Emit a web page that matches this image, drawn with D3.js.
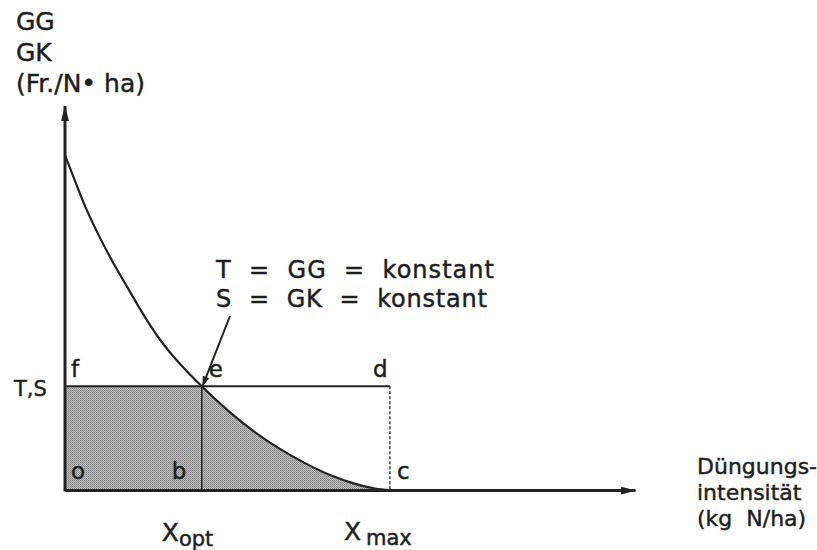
<!DOCTYPE html>
<html><head><meta charset="utf-8">
<script src="https://cdn.jsdelivr.net/npm/d3@7"></script>
<style>
body{margin:0;background:#fff}
svg{display:block}
text{font-family:"DejaVu Sans",sans-serif;fill:#1e1e1e;stroke:#1e1e1e;stroke-width:0.45px;white-space:pre}
</style>
</head><body>
<svg id="c" width="817" height="550"></svg>
<script>
// ---- data ----
const curveX = [0, 1.75, 3.5, 5.3, 7.9, 10.9, 14, 17.5, 21, 24, 28.9, 33.3, 37.7, 42.1, 46.5, 50.9, 54.4, 57];
const curveY = [87.2, 80.5, 74, 68.2, 60.7, 52.9, 45.1, 37.5, 31.5, 27, 20.3, 15.1, 10.7, 7, 3.9, 1.6, 0.4, 0];
const xOpt = 24, xMax = 57, levelTS = 27;
const yAxisTitle = ["GG", "GK", "(Fr./N\u2022 ha)"];
const xAxisTitle = ["Düngungs-", "intensität", "(kg  N/ha)"];
const annotation = ["T  =  GG  =  konstant", "S  =  GK  =  konstant"];
const levelLabel = "T,S";

const svg = d3.select("#c");
const x = d3.scaleLinear([0, 100], [65, 635]);
const y = d3.scaleLinear([0, 100], [490, 106]);
const pts = curveX.map((v, i) => [v, curveY[i]]);
const ink = "#222";

// defs
const defs = svg.append("defs");
const pat = defs.append("pattern").attr("id", "dots").attr("width", 2).attr("height", 2)
  .attr("patternUnits", "userSpaceOnUse");
pat.append("rect").attr("width", 2).attr("height", 2).attr("fill", "#bdbdbd");
pat.append("rect").attr("width", 1).attr("height", 1).attr("fill", "#858585");
pat.append("rect").attr("x", 1).attr("y", 1).attr("width", 1).attr("height", 1).attr("fill", "#959595");

defs.append("marker").attr("id", "arr").attr("viewBox", "0 0 16 10")
  .attr("refX", 15).attr("refY", 5).attr("markerWidth", 16).attr("markerHeight", 10)
  .attr("markerUnits", "userSpaceOnUse").attr("orient", "auto")
  .append("path").attr("d", "M0,1 L16,5 L0,9 Z").attr("fill", ink);
defs.append("marker").attr("id", "arrS").attr("viewBox", "0 0 10 8")
  .attr("refX", 9).attr("refY", 4).attr("markerWidth", 10).attr("markerHeight", 8)
  .attr("markerUnits", "userSpaceOnUse").attr("orient", "auto")
  .append("path").attr("d", "M0,0.5 L10,4 L0,7.5 Z").attr("fill", ink);

defs.append("clipPath").attr("id", "clipRight").append("rect")
  .attr("x", x(xOpt)).attr("y", 0).attr("width", x(xMax) - x(xOpt)).attr("height", 550);

// shaded regions
svg.append("rect").attr("x", x(0)).attr("y", y(levelTS))
  .attr("width", x(xOpt) - x(0)).attr("height", y(0) - y(levelTS)).attr("fill", "url(#dots)");
const area = d3.area().x(d => x(d[0])).y0(y(0)).y1(d => y(d[1])).curve(d3.curveMonotoneX);
svg.append("path").datum(pts).attr("d", area).attr("fill", "url(#dots)").attr("clip-path", "url(#clipRight)");

// T,S level line f-e-d
svg.append("line").attr("x1", x(0)).attr("x2", x(xMax)).attr("y1", y(levelTS)).attr("y2", y(levelTS))
  .attr("stroke", ink).attr("stroke-width", 2);
// vertical at b
svg.append("line").attr("x1", x(xOpt)).attr("x2", x(xOpt)).attr("y1", y(levelTS)).attr("y2", y(0))
  .attr("stroke", ink).attr("stroke-width", 1.5);
// dashed vertical at c
svg.append("line").attr("x1", x(xMax)).attr("x2", x(xMax)).attr("y1", y(levelTS)).attr("y2", y(0))
  .attr("stroke", ink).attr("stroke-width", 1.3).attr("stroke-dasharray", "3,2");

// curve
const line = d3.line().x(d => x(d[0])).y(d => y(d[1])).curve(d3.curveMonotoneX);
svg.append("path").datum(pts).attr("d", line).attr("fill", "none").attr("stroke", ink).attr("stroke-width", 2.2);

// axes
const gx = svg.append("g").attr("transform", `translate(0,${y(0)})`)
  .call(d3.axisBottom(x).tickValues([]).tickSizeOuter(0));
gx.select(".domain").attr("stroke", ink).attr("stroke-width", 3).attr("marker-end", "url(#arr)");
const gy = svg.append("g").attr("transform", `translate(${x(0)},0)`)
  .call(d3.axisLeft(y).tickValues([]).tickSizeOuter(0));
gy.select(".domain").attr("d", `M0,${y(0)+1.5}V${y(100)}`).attr("stroke", ink).attr("stroke-width", 3)
  .attr("marker-end", "url(#arr)");

// axis titles
svg.append("g").selectAll("text").data(yAxisTitle).join("text")
  .attr("x", 16).attr("y", (d, i) => 30 + i * 31).attr("font-size", 25).text(d => d);
svg.append("g").selectAll("text").data(xAxisTitle).join("text")
  .attr("x", 697).attr("y", (d, i) => 474 + i * 26).attr("font-size", 22).text(d => d);

// level label
svg.append("text").attr("x", 14).attr("y", y(levelTS) + 10).attr("font-size", 21).text(levelLabel);

// point letters
const letters = [["f", 0, levelTS, 6, -9], ["e", xOpt, levelTS, 7, -9], ["d", xMax, levelTS, -17, -9],
                 ["o", 0, 0, 6, -11], ["b", xOpt, 0, -30, -11], ["c", xMax, 0, 7, -11]];
svg.append("g").selectAll("text").data(letters).join("text")
  .attr("x", d => x(d[1]) + d[3]).attr("y", d => y(d[2]) + d[4]).attr("font-size", 23).text(d => d[0]);

// x tick labels
const xt = svg.append("g");
const t1 = xt.append("text").attr("x", x(xOpt) - 40).attr("y", 541).attr("font-size", 25);
t1.append("tspan").text("X");
t1.append("tspan").attr("font-size", 21).attr("dy", 5).text("opt");
const t2 = xt.append("text").attr("x", x(xMax) - 46).attr("y", 540).attr("font-size", 25);
t2.append("tspan").text("X");
t2.append("tspan").attr("font-size", 21).attr("dy", 5).attr("dx", 5).text("max");

// annotation
const annW = [278, 271];
svg.append("g").selectAll("text").data(annotation).join("text")
  .attr("x", 216).attr("y", (d, i) => 278 + i * 29).attr("font-size", 24)
  .attr("textLength", (d, i) => annW[i]).attr("lengthAdjust", "spacing").text(d => d);
svg.append("line").attr("x1", 230).attr("y1", 316).attr("x2", x(xOpt) + 1).attr("y2", y(levelTS) - 1)
  .attr("stroke", ink).attr("stroke-width", 2).attr("marker-end", "url(#arrS)");
</script>
</body></html>
